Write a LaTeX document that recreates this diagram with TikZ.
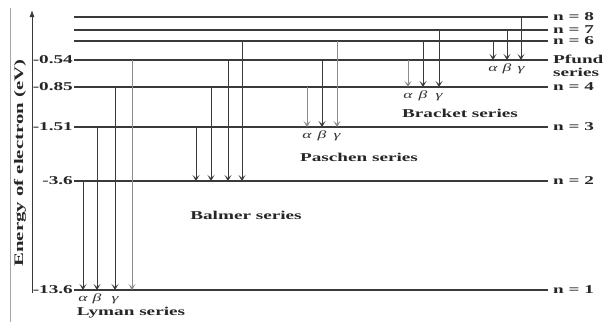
\documentclass[tikz,border=0pt]{standalone}
\usepackage{fontspec}
\setmainfont{Liberation Serif}[FakeStretch=1.6]
\usetikzlibrary{arrows.meta}
\definecolor{lineC}{HTML}{3A3A3A}
\definecolor{liteC}{HTML}{8C8C8C}

\begin{document}
\begin{tikzpicture}[
    x=1pt, y=-1pt,
    level/.style={draw=lineC, line width=1.2pt},
    arr/.style={-{Stealth[length=6pt, width=7pt, inset=3pt]}, line width=0.9pt},
    lbl/.style={font=\bfseries\fontsize{12}{13}\selectfont, text=black!85, inner sep=1pt},
    greek/.style={font=\itshape\fontsize{11}{12}\selectfont, text=black!80,
                  anchor=base, inner sep=0pt},
]
\useasboundingbox (0,0) rectangle (606,322);

% --- frame edge and energy axis ---
\draw[black!35, line width=0.6pt] (10,8) -- (10,322);
\coordinate (ax0) at (32,293);
\coordinate (ax1) at (32,10);
\draw[lineC, line width=0.9pt, -{Latex[length=7pt, width=5pt]}] (ax0) -- (ax1);
\node[lbl, rotate=90, font=\bfseries\fontsize{13}{14}\selectfont]
    (ylab) at (20,163) {Energy of electron (eV)};

% --- Levels ---
\foreach \n/\y in {1/290, 2/181, 3/127, 4/87, 5/60, 6/41, 7/30, 8/17} {
    \coordinate (L\n) at (74,\y);
    \coordinate (R\n) at (548,\y);
    \draw[level] (L\n) -- (R\n);
}

% level names (n = 5 carries the Pfund label)
\foreach \n in {1,2,3,4,6,7,8} {
    \node[lbl, anchor=west] (name\n) at ([xshift=4pt]R\n) {n = \n};
}
\node[lbl, anchor=west, align=left] (pfund) at ([xshift=4pt, yshift=-6pt]R5)
    {Pfund\\series};

% energy values
\foreach \n/\e in {1/-13.6, 2/-3.6, 3/-1.51, 4/-0.85, 5/-0.54} {
    \node[lbl, anchor=east] (e\n) at (L\n) {\e};
}

% --- Transitions (x / upper / lower / colour) ---
\foreach \x/\u/\l/\c in {
    83/2/1/lineC, 97/3/1/lineC, 115/4/1/lineC, 132/5/1/liteC,
    196/3/2/lineC, 211/4/2/lineC, 228/5/2/lineC, 242/6/2/lineC,
    307/4/3/liteC, 322/5/3/lineC, 337/6/3/liteC,
    408/5/4/liteC, 423/6/4/lineC, 439/7/4/lineC,
    493/6/5/lineC, 507/7/5/lineC, 521/8/5/lineC} {
    \path (L\u) ++({\x-74},0) coordinate (t\x);
    \path (L\l) ++({\x-74},0) coordinate (b\x);
    \draw[arr, draw=\c] (t\x) -- (b\x);
}

% alpha, beta, gamma under each series
\foreach \x/\g in {83/α, 97/β, 115/γ, 307/α, 322/β, 337/γ,
                   408/α, 423/β, 439/γ, 493/α, 507/β, 521/γ} {
    \node[greek] (g\x) at ([yshift=-11pt]b\x) {\g};
}

% series names
\node[lbl] (lyman) at (131,313) {Lyman series};
\node[lbl] (balmer) at (246,215) {Balmer series};
\node[lbl] (paschen) at (359,157) {Paschen series};
\node[lbl] (bracket) at (460,113) {Bracket series};

\end{tikzpicture}
\end{document}
